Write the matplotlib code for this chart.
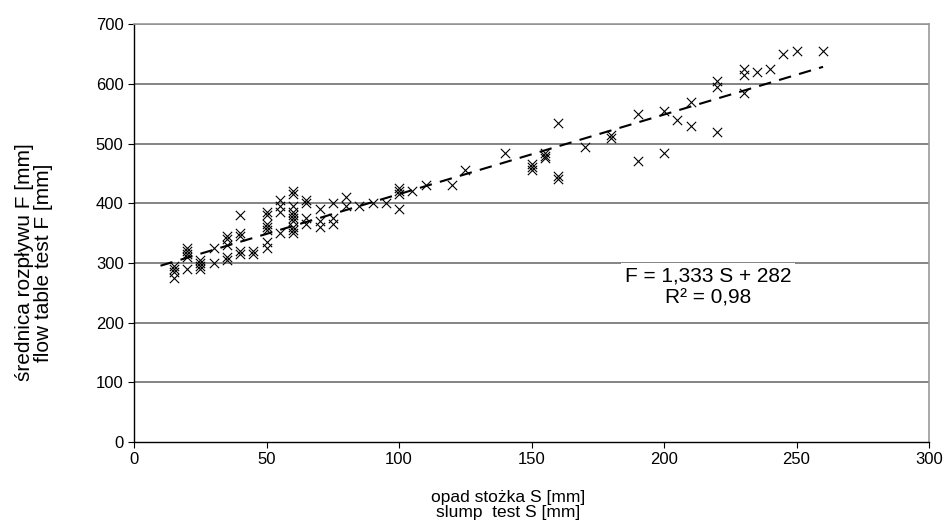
import matplotlib
matplotlib.use("Agg")
import matplotlib.pyplot as plt
import numpy as np

plt.rcParams['font.family'] = ['Liberation Sans', 'DejaVu Sans']

# slump test S [mm]
slump = [15, 15, 15, 15,
         20, 20, 20, 20, 20,
         25, 25, 25, 25,
         30, 30,
         35, 35, 35, 35, 35,
         40, 40, 40, 40, 40,
         45, 45,
         50, 50, 50, 50, 50, 50, 50,
         55, 55, 55, 55,
         60, 60, 60, 60, 60, 60, 60, 60, 60, 60,
         65, 65, 65, 65,
         70, 70, 70,
         75, 75, 75,
         80, 80, 85, 90, 95,
         100, 100, 100, 100,
         105, 110, 120, 125, 140,
         150, 150, 150,
         155, 155, 155,
         160, 160, 160,
         170, 180, 180,
         190, 190, 200, 200, 205,
         210, 210,
         220, 220, 220,
         230, 230, 230,
         235, 240, 245, 250, 260]
# flow table test F [mm]
flow = [275, 285, 290, 295,
        290, 310, 315, 320, 325,
        290, 295, 300, 305,
        300, 325,
        305, 310, 330, 340, 345,
        315, 320, 345, 350, 380,
        315, 320,
        325, 335, 355, 360, 365, 380, 385,
        350, 385, 395, 405,
        350, 355, 360, 370, 375, 380, 385, 395, 415, 420,
        365, 375, 400, 405,
        360, 370, 390,
        365, 375, 400,
        395, 410, 395, 400, 400,
        390, 415, 420, 425,
        420, 430, 430, 455, 485,
        455, 460, 465,
        475, 480, 485,
        440, 445, 535,
        495, 510, 515,
        470, 550, 485, 555, 540,
        530, 570,
        520, 595, 605,
        585, 615, 625,
        620, 625, 650, 655, 655]

trend_x = [10, 260]
slope, intercept = 1.333, 282

x_ticks = [0, 50, 100, 150, 200, 250, 300]
y_ticks = [0, 100, 200, 300, 400, 500, 600, 700]

fig = plt.figure(figsize=(9.49, 5.26), dpi=100)
ax = fig.add_axes([0.1412, 0.1597, 0.8378, 0.7943])

ax.set_xlim(0, 300)
ax.set_ylim(0, 700)
ax.set_xticks(x_ticks)
ax.set_yticks(y_ticks)
ax.tick_params(labelsize=12, direction='out', length=4, width=0.8, colors='black')

for y in y_ticks[1:]:
    ax.axhline(y, color='#707070', lw=1.2, zorder=1)

for side in ['top', 'right']:
    ax.spines[side].set_color('#999999')
    ax.spines[side].set_linewidth(1.2)
for side in ['left', 'bottom']:
    ax.spines[side].set_color('black')
    ax.spines[side].set_linewidth(1.0)

ax.scatter(slump, flow, marker='x', s=45, color='black', linewidths=0.8, zorder=3)

tx = np.array(trend_x, dtype=float)
ax.plot(tx, slope * tx + intercept, color='black', lw=1.5, dashes=(6, 4), zorder=4)

ax.text(216.6, 259, "F = 1,333 S + 282\nR\u00b2 = 0,98", ha='center', va='center',
        fontsize=15, linespacing=1.2, zorder=5,
        bbox=dict(facecolor='white', edgecolor='none', pad=3))

ax.set_xlabel("opad stożka S [mm]\nslump  test S [mm]", fontsize=12.5, linespacing=1.0)
ax.xaxis.set_label_coords(0.47, -0.15)
ax.xaxis.label.set_va('center')
ax.set_ylabel("średnica rozpływu F [mm]\nflow table test F [mm]", fontsize=15, linespacing=1.0)
ax.yaxis.set_label_coords(-0.126, 0.43)
ax.yaxis.label.set_va('center')

fig.savefig("out.png", dpi=100)
